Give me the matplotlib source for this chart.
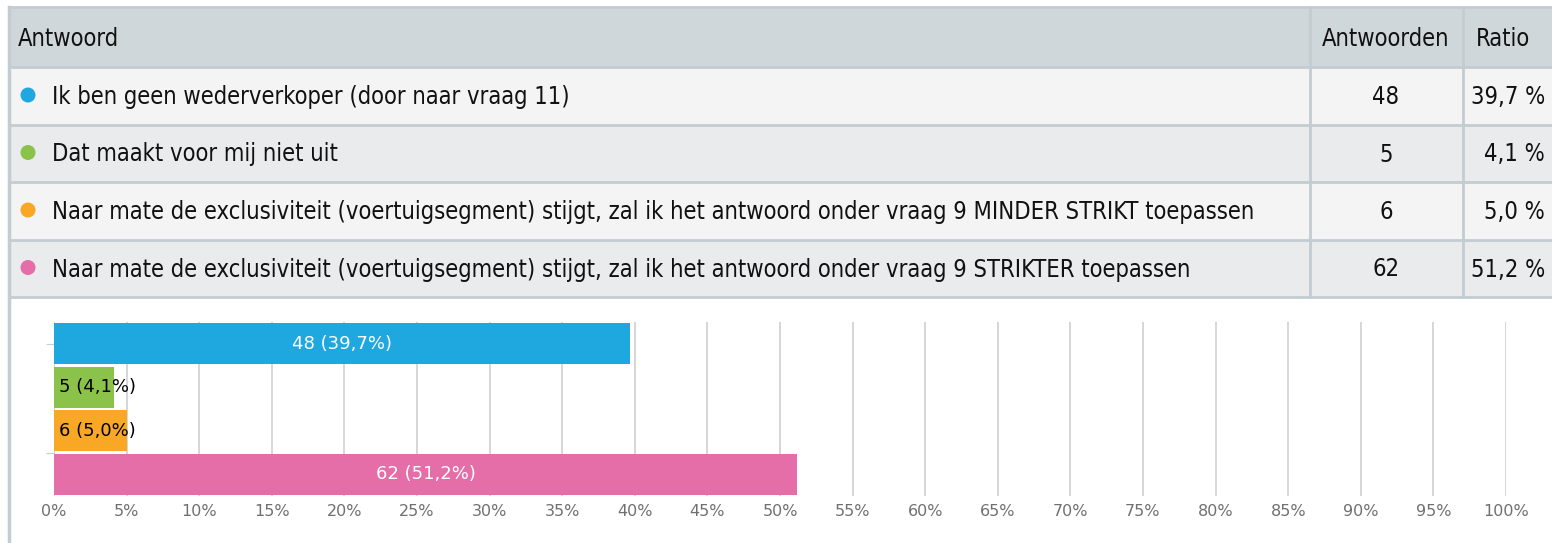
import matplotlib
matplotlib.use('Agg')
import matplotlib.pyplot as plt
from matplotlib.patches import Rectangle, Circle
import numpy as np

# data
answers = [
    "Ik ben geen wederverkoper (door naar vraag 11)",
    "Dat maakt voor mij niet uit",
    "Naar mate de exclusiviteit (voertuigsegment) stijgt, zal ik het antwoord onder vraag 9 MINDER STRIKT toepassen",
    "Naar mate de exclusiviteit (voertuigsegment) stijgt, zal ik het antwoord onder vraag 9 STRIKTER toepassen",
]
counts = [48, 5, 6, 62]
ratios = [39.7, 4.1, 5.0, 51.2]
colors = ['#1fa8e0', '#8bc34a', '#f9a825', '#e56ea9']
ticks = list(range(0, 101, 5))

W, H = 1552, 543
TFONT = dict(family='DejaVu Sans', fontstretch='condensed')

fig = plt.figure(figsize=(W / 100, H / 100), dpi=100)

# overlay in pixel coords for the table
bg = fig.add_axes([0, 0, 1, 1])
bg.set_xlim(0, W)
bg.set_ylim(H, 0)
bg.axis('off')

border = '#c3ccd1'
row_y = [7, 67, 125, 182, 240, 297]
row_fill = ['#d0d7db', '#f4f4f4', '#e9ebed', '#f4f4f4', '#e9ebed']
for i in range(5):
    bg.add_patch(Rectangle((9, row_y[i]), W - 9, row_y[i + 1] - row_y[i],
                           facecolor=row_fill[i], edgecolor='none'))
for y in row_y:
    bg.plot([9, W], [y, y], color=border, lw=2)
bg.plot([9, 9], [7, H], color=border, lw=2.5)
for x in [1310, 1463]:
    bg.plot([x, x], [7, 297], color=border, lw=2)

fs = 17
bg.text(18, 39, "Antwoord", fontsize=fs, va='center', color='#111111', **TFONT)
bg.text(1386, 39, "Antwoorden", fontsize=fs, va='center', ha='center', color='#111111', **TFONT)
bg.text(1503, 39, "Ratio", fontsize=fs, va='center', ha='center', color='#111111', **TFONT)

for i, (a, c, r, col) in enumerate(zip(answers, counts, ratios, colors)):
    yc = (row_y[i + 1] + row_y[i + 2]) / 2
    bg.add_patch(Circle((28, yc - 1), 7.5, facecolor=col, edgecolor='none'))
    bg.text(52, yc + 1, a, fontsize=fs, va='center', color='#111111', **TFONT)
    bg.text(1386, yc + 1, str(c), fontsize=fs, va='center', ha='center', color='#111111', **TFONT)
    bg.text(1545, yc + 1, f"{r:.1f} %".replace('.', ','), fontsize=fs,
            va='center', ha='right', color='#111111', **TFONT)

# bar chart
ax = fig.add_axes([54 / W, 1 - 496 / H, (1506 - 54) / W, (496 - 322) / H])
y = np.arange(len(counts))
ax.barh(y, ratios, height=0.94, color=colors, zorder=3)
ax.set_xlim(0, 100)
ax.set_ylim(3.5, -0.5)
ax.set_xticks(ticks)
ax.set_xticklabels([f"{t}%" for t in ticks], color='#707070', fontsize=11.5)
ax.tick_params(axis='x', length=0, pad=6)
ax.set_yticks([0, 2.5])
ax.set_yticklabels([])
ax.tick_params(axis='y', length=6, color='#c0d0e0')
ax.grid(axis='x', color='#d0d0d0', lw=1.2, zorder=0)
for s in ax.spines.values():
    s.set_visible(False)

for i, (c, r) in enumerate(zip(counts, ratios)):
    lab = f"{c} ({r:.1f}%)".replace('.', ',')
    if r > 10:
        ax.text(r / 2, i, lab, ha='center', va='center', color='white', fontsize=13, zorder=4)
    else:
        ax.text(0.35, i, lab, ha='left', va='center', color='black', fontsize=13, zorder=4)

fig.savefig('out.png', dpi=100)
